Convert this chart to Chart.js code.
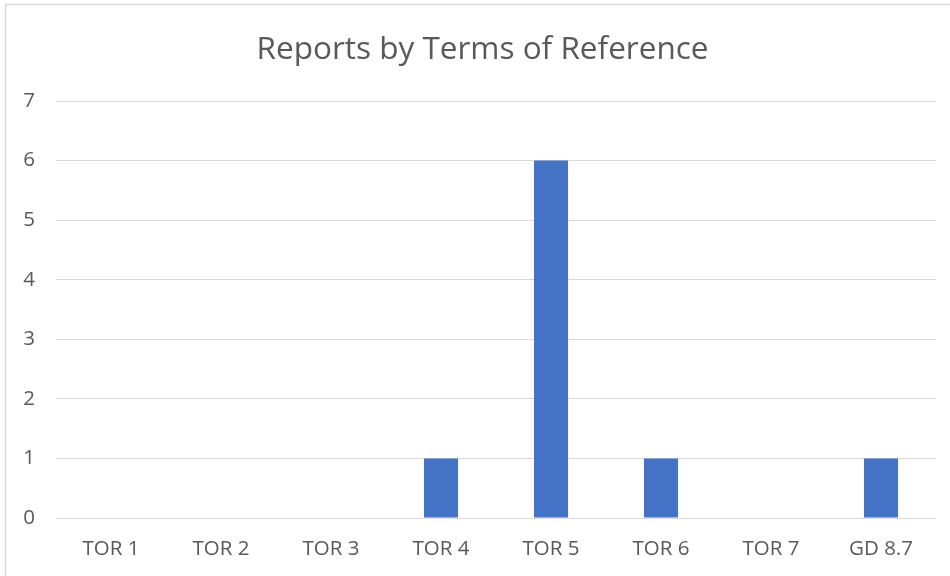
<!DOCTYPE html>
<html>
<head>
<meta charset="utf-8">
<script src="https://cdn.jsdelivr.net/npm/chart.js@4"></script>
<style>
  html, body { margin: 0; padding: 0; background: #fff; }
  #wrap { width: 950px; height: 576px; position: relative; }
</style>
</head>
<body>
<div id="wrap"><canvas id="reportsChart" width="950" height="576"></canvas></div>
<script>
var categories = ["TOR 1", "TOR 2", "TOR 3", "TOR 4", "TOR 5", "TOR 6", "TOR 7", "GD 8.7"];
var reportCounts = [0, 0, 0, 1, 6, 1, 0, 1];
var yTicks = [0, 1, 2, 3, 4, 5, 6, 7];

var textColor = "#595959";
var gridColor = "#d9d9d9";

// white page plus the chart frame (only top and left edge are visible)
var framePlugin = {
    id: "frame",
    beforeDraw: function (chart) {
        var ctx = chart.ctx;
        ctx.save();
        ctx.fillStyle = "#fff";
        ctx.fillRect(0, 0, chart.width, chart.height);
        ctx.strokeStyle = gridColor;
        ctx.lineWidth = 1.5;
        ctx.beginPath();
        ctx.moveTo(5.5, chart.height);
        ctx.lineTo(5.5, 4.5);
        ctx.lineTo(chart.width, 4.5);
        ctx.stroke();
        ctx.restore();
    }
};

var ctx = document.getElementById("reportsChart");
var reportsChart = new Chart(ctx, {
    type: "bar",
    data: {
        labels: categories,
        datasets: [{
            label: "Reports",
            data: reportCounts,
            backgroundColor: "#4472c4",
            borderWidth: 0,
            categoryPercentage: 1,
            barPercentage: 0.31
        }]
    },
    options: {
        responsive: false,
        animation: false,
        // left padding nudges the centred title right, like the original
        layout: { padding: { top: 0, right: 0, bottom: 0, left: 15 } },
        plugins: {
            legend: { display: false },
            tooltip: { enabled: false },
            title: {
                display: true,
                text: "Reports by Terms of Reference",
                color: textColor,
                font: { family: "'Open Sans'", size: 31.5, weight: "normal" },
                padding: { top: 31, bottom: 32.2 }
            }
        },
        scales: {
            x: {
                grid: { display: false, drawTicks: false },
                border: { display: false },
                ticks: {
                    color: textColor,
                    font: { family: "'Open Sans'", size: 20.5 },
                    padding: 19,
                    maxRotation: 0
                },
                afterFit: function (scale) { scale.height = 58; }
            },
            y: {
                min: 0,
                max: 7,
                grid: { color: gridColor, lineWidth: 1, drawTicks: false },
                border: { display: false },
                afterBuildTicks: function (scale) {
                    scale.ticks = yTicks.map(function (v) { return { value: v }; });
                },
                ticks: {
                    color: textColor,
                    font: { family: "'Open Sans'", size: 20.5 },
                    padding: 21
                },
                afterFit: function (scale) { scale.width = 41; }
            },
            // empty spacer on the right so the plot ends where the original does
            spacer: {
                type: "linear",
                position: "right",
                grid: { drawOnChartArea: false, drawTicks: false },
                border: { display: false },
                ticks: { display: false },
                afterFit: function (scale) { scale.width = 14; }
            }
        }
    },
    plugins: [framePlugin]
});
</script>
</body>
</html>
